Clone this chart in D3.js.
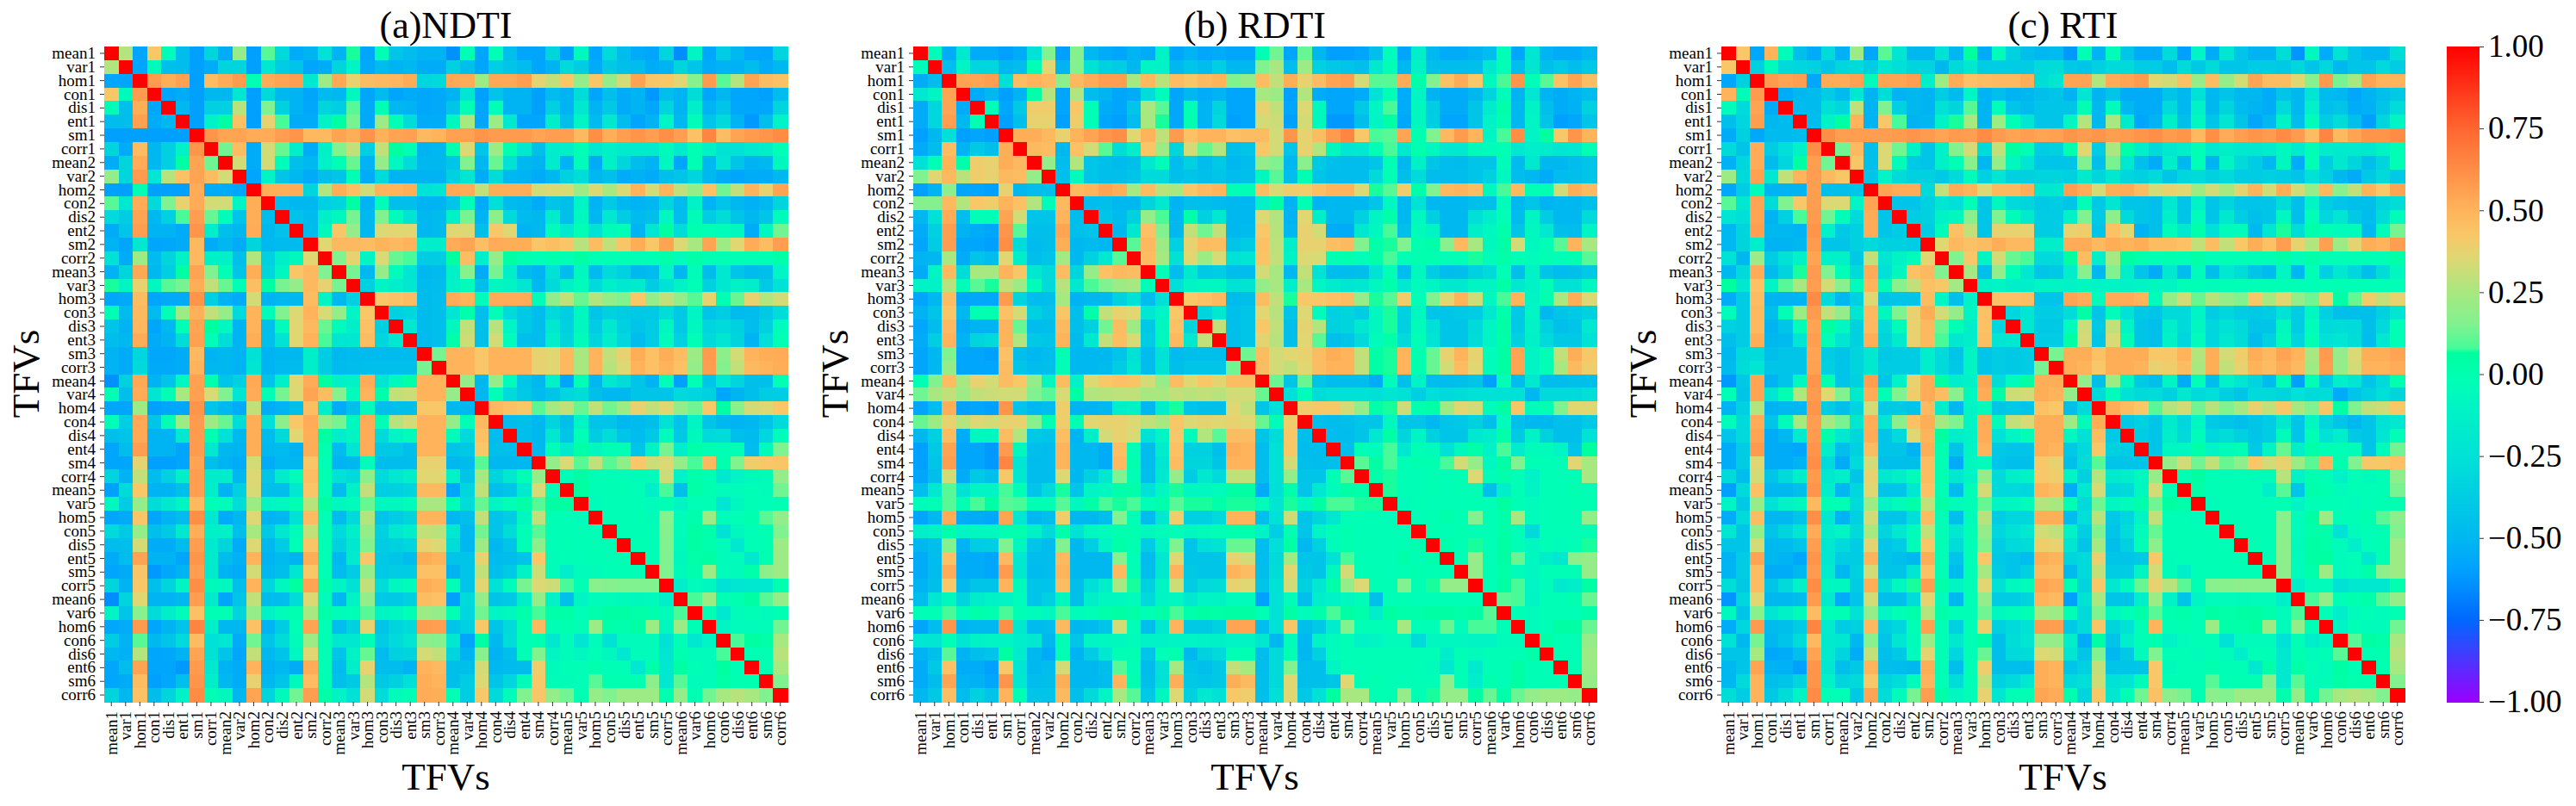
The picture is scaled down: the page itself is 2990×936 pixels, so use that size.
<!DOCTYPE html>
<html><head><meta charset="utf-8">
<script src="https://cdn.jsdelivr.net/npm/d3@7/dist/d3.min.js"></script>
<style>html,body{margin:0;padding:0;background:#fff}svg{display:block}text{font-family:"Liberation Serif","Times New Roman",serif;fill:#000}</style>
</head><body><svg id="c" width="2990" height="936"></svg>
<script>
const features=["mean","var","hom","con","dis","ent","sm","corr"];
const labels=[1,2,3,4,5,6].flatMap(n=>features.map(f=>f+n));
const titles=["(a)NDTI","(b) RDTI","(c) RTI"];
const axisName="TFVs";
const barTicks=[1,.75,.5,.25,0,-.25,-.5,-.75,-1];
// lower triangle of each symmetric matrix
const valuesNDTI=[[],
[.27],
[-.58,-.58],
[.42,-.06,.58],
[-.04,-.45,.52,-.58],
[-.47,-.47,.56,-.55,-.5],
[-.6,-.6,-.6,-.6,-.6,-.6],
[-.33,-.55,.47,-.5,-.36,-.12,.6],
[-.55,-.33,.53,-.5,-.36,.05,.55,.13],
[.2,-.33,.58,-.22,.28,.45,.55,.47,.33],
[-.6,-.6,-.02,-.6,-.6,-.6,.53,-.55,-.55,-.58],
[.1,-.2,.53,-.3,.15,.38,.53,.33,.33,-.1,.52],
[-.3,-.38,.55,-.5,-.35,.08,.57,.12,-.05,-.42,.52,-.47],
[-.55,-.42,.57,-.52,-.52,-.55,.6,-.15,-.45,-.5,.53,-.5,-.44],
[-.52,-.58,-.2,-.58,-.57,-.55,.48,-.55,-.5,-.55,-.33,-.5,-.48,-.48],
[-.25,-.55,.22,-.48,-.33,-.12,.48,-.13,-.13,-.45,.27,-.35,-.15,-.07,.36],
[-.52,-.33,.54,-.5,-.37,.05,.55,.15,-.03,-.42,.52,-.33,-.08,.43,.48,.15],
[.07,-.1,.38,-.07,.1,.14,.52,.3,.12,-.02,.46,.05,.14,.2,.48,.38,.14],
[-.58,-.56,.47,-.58,-.56,-.56,.6,-.37,-.52,-.55,.33,-.52,-.5,-.5,.47,-.1,-.5,-.35],
[-.02,-.48,.48,-.48,-.02,.22,.51,.3,.2,-.3,.5,-.05,.15,.35,.5,.34,.2,-.1,.42],
[-.42,-.52,.49,-.58,-.5,-.03,.55,.06,-.08,-.52,.5,-.45,-.05,.36,.48,.12,-.05,-.15,.45,-.35],
[-.47,-.5,.53,-.55,-.52,-.28,.56,-.03,-.28,-.52,.52,-.45,-.24,.36,.5,.08,-.22,-.2,.47,-.32,-.2],
[-.52,-.55,-.32,-.57,-.57,-.55,.48,-.52,-.5,-.52,-.25,-.52,-.5,-.5,-.15,-.38,-.5,-.48,-.48,-.48,-.48,-.48],
[-.52,-.55,-.3,-.56,-.56,-.55,.5,-.5,-.5,-.52,-.22,-.52,-.48,-.48,-.15,-.38,-.48,-.47,-.46,-.46,-.46,-.46,.14],
[-.64,-.35,.54,-.52,-.42,-.08,.56,0,-.42,-.35,.54,-.42,-.13,.36,.53,.06,-.13,-.12,.53,-.22,-.07,.03,.5,.5],
[-.02,-.45,.53,-.22,-.02,.25,.56,.34,.15,-.22,.53,-.03,.14,.35,.55,.47,.17,-.05,.5,.02,.3,.32,.5,.5,.2],
[-.58,-.58,.22,-.6,-.58,-.58,.6,-.42,-.5,-.55,.3,-.55,-.52,-.45,.46,-.15,-.55,-.45,-.05,-.45,-.45,-.45,.42,.42,-.5,-.5],
[-.03,-.37,.54,-.42,-.03,.22,.58,.22,.12,-.28,.52,-.27,.18,.42,.53,.2,.14,-.08,.53,-.03,.28,.33,.5,.5,.2,-.03,.48],
[-.45,-.42,.54,-.52,-.52,-.2,.58,0,-.25,-.5,.52,-.48,-.3,.36,.52,.05,-.15,-.1,.53,-.3,-.1,-.05,.5,.5,-.05,-.3,.45,-.47],
[-.58,-.47,.57,-.52,-.52,-.58,.58,-.2,-.5,-.52,.52,-.5,-.48,-.52,.52,0,-.48,-.22,.53,-.4,-.4,-.45,.5,.5,-.42,-.4,.42,-.45,-.45],
[-.58,-.58,.37,-.6,-.6,-.58,.55,-.45,-.52,-.55,.33,-.55,-.5,-.5,.43,-.03,-.52,-.5,-.05,-.47,-.47,-.47,.38,.38,-.5,-.48,.1,-.5,-.5,-.5],
[-.33,-.52,.3,-.47,-.36,-.15,.57,-.17,-.17,-.5,.35,-.42,-.17,-.05,.46,0,-.25,-.3,.18,-.3,-.2,-.15,.36,.36,-.12,-.42,.24,-.33,-.2,-.03,.2],
[-.6,-.3,.42,-.52,-.52,-.45,.57,-.15,-.52,-.35,.34,-.45,-.45,-.2,.43,-.02,-.47,-.13,.3,-.37,-.35,-.33,.48,.48,-.58,-.32,.3,-.45,-.42,-.18,.34,-.03],
[-.08,-.38,.2,-.28,-.2,-.1,.48,-.03,-.05,-.28,.22,-.1,-.08,-.02,.28,.05,-.08,-.05,.12,-.08,-.08,-.05,.25,.25,-.03,-.28,.12,-.1,-.03,.04,.1,.05,.06],
[-.58,-.55,.43,-.58,-.52,-.48,.62,-.2,-.55,-.5,.35,-.52,-.5,-.25,.47,-.02,-.48,-.3,.27,-.42,-.38,-.33,.5,.5,-.5,-.45,.3,-.42,-.38,-.08,.3,-.02,-.03,-.05],
[-.3,-.4,.2,-.45,-.4,-.2,.52,-.13,-.13,-.45,.25,-.4,-.2,-.05,.3,-.02,-.3,-.15,.2,-.35,-.2,-.15,.3,.28,-.2,-.5,.13,-.42,-.28,-.03,.1,-.03,-.02,-.03,-.03],
[-.47,-.45,.33,-.55,-.55,-.47,.57,-.18,-.33,-.55,.35,-.5,-.38,-.03,.43,-.02,-.35,-.2,.15,-.38,-.35,-.32,.38,.35,-.28,-.5,.22,-.5,-.42,-.03,.18,-.03,-.02,-.03,-.02,-.02],
[-.55,-.47,.55,-.52,-.52,-.58,.6,-.18,-.47,-.53,.5,-.52,-.48,-.52,.52,-.02,-.5,-.18,.42,-.4,-.42,-.47,.52,.5,-.42,-.42,.38,-.48,-.47,-.42,.42,-.04,-.03,-.03,-.02,-.02,-.01],
[-.58,-.55,.43,-.62,-.57,-.52,.57,-.18,-.52,-.55,.33,-.5,-.45,-.22,.42,-.02,-.48,-.38,.2,-.4,-.38,-.38,.45,.45,-.52,-.42,.3,-.45,-.4,-.12,.32,-.05,-.15,-.05,-.04,-.03,-.03,-.03],
[-.33,-.52,.42,-.45,-.33,-.1,.62,-.06,-.08,-.45,.5,-.33,-.08,.06,.55,.02,-.1,-.25,.3,-.28,-.08,-.05,.52,.5,-.03,-.42,.36,-.25,-.05,.14,.35,.32,.08,-.02,.17,.16,.15,.15,.15],
[-.65,-.33,.36,-.52,-.52,-.5,.57,-.18,-.58,-.42,.3,-.48,-.47,-.28,.35,-.05,-.5,-.12,.2,-.4,-.4,-.35,.47,.45,-.6,-.3,.2,-.42,-.4,-.15,.2,-.12,-.45,-.1,-.05,-.05,-.06,-.07,-.06,-.15],
[-.1,-.42,.17,-.28,-.15,-.05,.45,-.02,-.02,-.33,.2,-.12,-.04,0,.25,.03,-.04,-.03,.1,-.1,-.08,-.03,.22,.2,-.02,-.32,.13,-.1,-.07,.02,.08,.02,.04,-.03,.01,.05,.05,.03,.01,-.05,.08],
[-.57,-.55,.58,-.58,-.52,-.43,.65,-.13,-.5,-.5,.45,-.52,-.38,-.03,.55,-.02,-.47,-.35,.38,-.42,-.33,-.3,.58,.57,-.42,-.35,.42,-.42,-.3,-.02,.48,-.02,0,-.02,.22,.02,.01,.05,.22,-.08,.22,-.02],
[-.38,-.52,.1,-.5,-.42,-.3,.47,-.25,-.22,-.55,.13,-.42,-.28,-.05,.22,-.02,-.2,-.2,-.02,-.38,-.3,-.22,.18,.16,-.2,-.58,.05,-.5,-.28,-.02,0,-.2,-.05,-.22,-.05,-.25,-.05,-.05,-.05,-.25,-.03,-.2,-.1],
[-.5,-.53,.27,-.58,-.57,-.52,.55,-.25,-.42,-.58,.3,-.5,-.42,-.08,.36,-.02,-.42,-.12,.12,-.48,-.35,-.33,.33,.3,-.33,-.52,.17,-.52,-.45,-.03,.15,-.1,-.05,-.08,-.03,-.07,-.2,-.05,-.05,-.22,0,-.05,-.05,.08],
[-.57,-.47,.55,-.58,-.58,-.62,.58,-.2,-.52,-.55,.5,-.53,-.5,-.55,.53,-.02,-.48,-.15,.38,-.47,-.47,-.52,.5,.48,-.45,-.45,.33,-.5,-.48,-.47,.4,-.06,-.03,-.03,0,-.03,-.03,-.2,.02,-.2,.05,-.03,-.05,.06,-.03],
[-.58,-.55,.47,-.6,-.57,-.45,.6,-.15,-.5,-.55,.38,-.5,-.42,-.07,.47,-.02,-.45,-.4,.27,-.4,-.35,-.27,.52,.5,-.45,-.38,.35,-.42,-.32,-.05,.42,-.04,-.04,-.03,.1,-.01,-.01,-.01,.18,-.2,.1,-.05,-.04,.04,-.01,-.01],
[-.33,-.5,.45,-.47,-.33,-.12,.63,-.03,-.07,-.5,.55,-.33,-.06,.13,.57,.03,-.1,-.25,.33,-.28,-.05,-.02,.53,.52,-.02,-.38,.42,-.3,-.05,.15,.43,.2,.13,-.01,.2,.15,.22,.22,.22,0,.2,-.01,.13,.25,.28,.25,.15]];
const valuesRDTI=[[],
[-.05],
[-.55,-.47],
[-.2,-.1,.55],
[-.55,-.32,.55,-.55],
[-.55,-.32,.57,-.5,-.03],
[-.6,-.5,-.27,-.6,-.58,-.6],
[-.55,-.47,.47,-.52,-.4,-.45,.52],
[-.25,-.03,.5,.03,.4,.38,.52,.48],
[.15,.36,.48,.28,.4,.38,.48,.47,.2],
[-.6,-.52,.18,-.58,-.58,-.6,.38,-.5,-.47,-.45],
[.16,.16,.48,.27,.42,.4,.5,.45,.27,-.05,.48],
[-.5,-.25,.53,-.47,-.03,-.03,.55,.33,-.42,-.42,.5,-.47],
[-.55,-.35,.57,-.52,-.55,-.58,.6,.1,-.45,-.45,.55,-.45,-.42],
[-.58,-.38,.57,-.58,-.58,-.6,.62,-.28,-.48,-.45,.52,-.5,-.48,-.5],
[-.52,-.5,.25,-.55,-.42,-.47,.36,-.15,-.45,-.42,.24,-.5,-.35,-.2,.1],
[-.55,-.1,.48,-.28,.25,.25,.5,.43,-.2,-.3,.47,-.33,.2,.45,.48,.47],
[-.12,-.12,.28,-.05,.1,.07,.3,.22,-.05,-.3,.28,-.2,.08,.15,.22,.25,-.03],
[-.58,-.5,.47,-.58,-.57,-.57,.58,-.33,-.47,-.45,.25,-.52,-.5,-.5,-.35,-.25,-.47,-.27],
[-.52,-.42,.43,-.5,-.02,0,.45,.33,-.35,-.42,.43,-.45,.02,.3,.38,.36,-.2,-.1,.42],
[-.57,-.47,.48,-.55,-.52,-.52,.5,.12,-.47,-.45,.48,-.45,-.35,.13,.47,.22,-.4,-.08,.45,-.33],
[-.55,-.37,.5,-.52,-.33,-.3,.5,.27,-.4,-.42,.5,-.48,-.2,.3,.46,.34,-.38,-.08,.48,-.2,.3],
[-.58,-.5,.15,-.58,-.58,-.6,.45,-.45,-.5,-.47,-.02,-.5,-.5,-.5,-.42,-.25,-.47,-.25,-.48,-.45,-.45,-.45],
[-.58,-.5,.2,-.58,-.58,-.58,.47,-.42,-.47,-.45,-.03,-.5,-.5,-.48,-.38,-.22,-.47,-.23,-.45,-.42,-.42,-.42,.13],
[-.02,.15,.47,.25,.38,.33,.47,.42,.2,-.08,.47,-.12,.35,.42,.45,.44,.33,.2,.47,.36,.42,.37,.47,.47],
[.13,.25,.3,.22,.3,.32,.33,.33,.15,.1,.34,.05,.27,.28,.29,.3,.25,.25,.3,.28,.3,.28,.33,.33,.12],
[-.58,-.47,.52,-.6,-.58,-.6,.6,-.42,-.5,-.47,.4,-.52,-.52,-.5,-.15,-.12,-.5,-.15,.07,-.42,-.45,-.45,.36,.3,-.42,-.27],
[.12,.22,.38,.27,.35,.33,.38,.38,.17,-.02,.4,-.02,.36,.38,.38,.35,.3,.25,.42,.35,.37,.36,.38,.36,.12,-.05,.4],
[-.5,-.35,.47,-.55,-.07,-.07,.47,.27,-.4,-.42,.46,-.52,-.15,.33,.38,.34,-.25,-.1,.42,-.05,.27,.1,.47,.47,-.42,-.28,.42,-.45],
[-.6,-.4,.55,-.58,-.58,-.62,.58,-.07,-.45,-.47,.5,-.5,-.5,-.55,.46,-.02,-.47,-.17,.45,-.35,-.35,-.45,.52,.5,-.47,-.25,.42,-.47,-.47],
[-.6,-.42,.57,-.58,-.58,-.62,.65,-.22,-.47,-.47,.5,-.5,-.5,-.55,.48,0,-.47,-.22,.47,-.33,-.33,-.42,.5,.5,-.47,-.25,.33,-.45,-.47,-.45],
[-.58,-.45,.33,-.55,-.4,-.45,.42,-.2,-.47,-.47,.35,-.5,-.35,-.2,.15,-.03,-.45,-.2,.2,-.38,-.2,-.3,.3,.3,-.47,-.25,.2,-.42,-.42,-.03,.1],
[-.45,-.2,.1,-.25,-.1,-.1,.08,-.02,-.42,-.3,.07,-.42,-.1,-.08,.02,.03,-.25,-.08,.07,-.08,-.08,-.05,.05,.05,-.55,-.27,.02,-.42,-.2,-.05,.05,.02],
[-.05,-.03,.1,-.02,.08,.05,.1,.08,-.02,-.02,.1,-.08,.03,.08,.07,.08,-.02,.02,.1,.07,.07,.03,.07,.07,-.05,-.22,.07,-.08,.05,.08,.08,.07,.07],
[-.58,-.5,.53,-.55,-.55,-.57,.55,-.2,-.5,-.45,.4,-.5,-.5,-.45,.15,-.03,-.47,-.2,.4,-.35,-.35,-.3,.5,.5,-.45,-.25,.32,-.42,-.33,-.2,-.03,-.03,-.03,-.05],
[-.15,-.12,.02,-.1,-.08,-.08,0,0,-.13,-.3,.02,-.25,-.08,-.05,0,0,-.07,-.05,-.03,-.08,-.05,-.03,0,0,-.12,-.37,0,-.42,-.1,-.02,0,-.03,-.03,-.02,-.03],
[-.5,-.45,.15,-.52,-.38,-.37,.15,-.08,-.42,-.47,.15,-.5,-.37,-.1,.03,0,-.38,-.1,.15,-.42,-.27,-.23,.12,.12,-.47,-.27,.04,-.5,-.35,-.05,0,-.02,-.02,-.03,-.02,0],
[-.55,-.47,.45,-.55,-.55,-.58,.48,-.2,-.47,-.47,.48,-.5,-.5,-.5,.17,-.03,-.47,-.2,.36,-.42,-.42,-.42,.38,.33,-.47,-.3,.22,-.42,-.42,-.25,.08,-.03,-.03,-.03,.02,-.03,.02],
[-.55,-.47,.53,-.55,-.55,-.58,.58,-.2,-.48,-.47,.5,-.5,-.5,-.5,.48,-.03,-.45,-.2,.5,-.4,-.42,-.42,.5,.47,-.45,-.28,.36,-.4,-.42,-.07,.33,-.02,-.02,-.03,-.02,0,-.02,-.03],
[-.52,-.45,.42,-.5,-.42,-.42,.5,-.06,-.42,-.43,.47,-.45,-.27,-.15,.25,.07,-.35,-.1,.32,-.38,-.3,-.28,.38,.36,-.42,-.25,.33,-.35,-.2,.03,.2,.35,-.02,-.02,.15,-.02,.07,.2,.2],
[-.47,-.2,-.07,-.33,-.17,-.12,-.1,-.05,-.42,-.35,-.07,-.45,-.15,-.08,-.07,-.05,-.3,-.1,-.08,-.2,-.1,-.1,-.05,-.05,-.6,-.25,-.05,-.45,-.15,-.12,-.08,-.04,-.45,-.03,-.02,-.03,-.03,-.03,-.03,-.03],
[-.03,-.03,.08,-.05,.02,0,.08,-.02,-.05,-.08,.08,-.05,-.03,.02,.05,.03,-.02,.04,.08,.02,.05,.04,.05,.05,-.02,-.25,.05,-.05,.03,.08,.05,.02,-.15,.06,.02,.03,.05,.05,.04,.05,.1],
[-.58,-.47,.6,-.52,-.5,-.5,.62,-.2,-.48,-.47,.48,-.5,-.48,-.42,.33,-.03,-.45,-.2,.5,-.4,-.4,-.35,.55,.55,-.47,-.25,.43,-.45,-.4,-.17,.15,-.03,-.03,-.02,.25,-.03,-.03,.12,-.05,.08,.08,-.03],
[-.22,-.22,-.03,-.22,-.12,-.1,-.1,-.15,-.2,-.5,-.02,-.42,-.1,-.08,-.07,-.05,-.12,-.12,-.1,-.1,-.12,-.13,-.1,-.1,-.2,-.5,-.05,-.5,-.12,-.05,-.03,-.12,-.1,-.05,-.05,-.3,-.08,-.08,-.08,-.1,-.1,-.05,-.05],
[-.52,-.45,.1,-.52,-.45,-.42,.06,-.17,-.5,-.55,-.02,-.52,-.38,-.2,-.03,-.01,-.42,-.03,0,-.5,-.35,-.3,-.03,-.02,-.47,-.3,-.02,-.5,-.35,-.05,-.03,-.03,-.03,-.03,-.03,-.03,-.03,-.15,-.03,-.05,-.03,-.03,-.03,.03],
[-.55,-.4,.45,-.55,-.55,-.6,.42,-.22,-.5,-.47,.33,-.5,-.5,-.45,.1,-.03,-.47,-.25,.25,-.42,-.45,-.4,.3,.25,-.47,-.3,.15,-.45,-.45,-.1,-.03,-.03,-.03,-.02,-.02,-.03,-.05,-.2,-.03,-.18,-.03,-.03,.05,-.02,-.03],
[-.55,-.47,.55,-.52,-.53,-.57,.6,-.2,-.47,-.45,.52,-.5,-.5,-.47,.5,0,-.45,-.25,.52,-.4,-.42,-.4,.52,.48,-.45,-.3,.36,-.45,-.45,-.42,.36,-.03,0,-.02,-.03,-.03,-.03,.18,-.03,-.15,0,-.03,.05,-.03,-.03,-.03],
[-.5,-.4,.46,-.47,-.35,-.42,.5,-.02,-.42,-.42,.48,-.45,-.3,-.1,.25,.1,-.4,-.08,.35,-.35,-.2,-.25,.42,.4,-.45,-.27,.36,-.4,-.25,.06,.25,.25,-.02,-.01,.2,-.02,.07,.2,.2,.05,.12,.02,.12,.2,.22,.22,.2]];
const valuesRTI=[[],
[.42],
[-.57,-.35],
[.5,-.05,.58],
[-.05,-.3,.55,-.55],
[-.45,-.32,.57,-.5,-.48],
[-.55,-.35,-.57,-.48,-.48,-.47],
[-.3,-.42,.53,-.38,-.27,-.12,.62],
[-.53,-.32,.53,-.48,-.32,.05,.57,.13],
[.22,-.3,.56,-.2,.3,.5,.57,.48,.43],
[-.57,-.38,-.05,-.52,-.52,-.52,.57,-.45,-.45,-.42],
[.1,-.2,.55,-.28,.15,.42,.57,.35,.35,-.1,.55],
[-.22,-.27,.55,-.52,-.35,.08,.58,.13,-.04,-.3,.53,-.42],
[-.5,-.33,.57,-.5,-.5,-.52,.6,-.12,-.4,-.35,.53,-.42,-.38],
[-.5,-.33,-.15,-.52,-.52,-.5,.58,-.42,-.42,-.35,-.3,-.35,-.35,-.38],
[-.25,-.5,.22,-.38,-.25,-.12,.55,-.13,-.13,-.4,.3,-.22,-.12,-.05,.36],
[-.5,-.3,.53,-.48,-.33,.07,.58,.15,-.03,-.3,.53,-.27,-.08,.45,.48,.15],
[.06,-.2,.45,-.1,.1,.25,.57,.33,.17,-.05,.5,-.03,.17,.3,.45,.42,.24],
[-.55,-.38,.47,-.52,-.52,-.52,.63,-.3,-.5,-.35,.35,-.42,-.42,-.42,.47,-.1,-.45,-.12],
[-.05,-.38,.48,-.45,-.03,.22,.58,.3,.2,-.22,.48,-.07,.15,.38,.52,.33,.2,-.1,.45],
[-.35,-.38,.48,-.52,-.42,-.02,.55,.06,-.08,-.35,.48,-.3,-.05,.38,.48,.12,-.03,-.15,.45,-.32],
[-.45,-.38,.52,-.5,-.48,-.22,.57,-.03,-.22,-.35,.52,-.33,-.18,.38,.48,.08,-.2,-.15,.46,-.22,-.2],
[-.5,-.3,-.28,-.45,-.42,-.42,.55,-.38,-.42,-.33,-.2,-.4,-.38,-.38,-.15,-.3,-.42,-.1,-.42,-.38,-.4,-.38],
[-.48,-.28,-.22,-.42,-.42,-.42,.56,-.35,-.42,-.33,-.2,-.38,-.38,-.38,-.15,-.3,-.4,-.1,-.42,-.38,-.4,-.38,.14],
[-.62,-.4,.55,-.52,-.42,-.08,.6,0,-.42,-.35,.57,-.42,-.12,.38,.53,.06,-.15,-.12,.55,-.28,-.05,.05,.52,.52],
[-.03,-.42,.55,-.22,-.01,.27,.58,.36,.15,-.18,.53,-.03,.15,.4,.53,.47,.17,-.08,.53,.05,.32,.33,.52,.5,.2],
[-.52,-.35,.27,-.52,-.5,-.5,.6,-.38,-.45,-.33,.33,-.4,-.4,-.42,.48,-.15,-.5,-.1,-.05,-.42,-.4,-.42,.45,.42,-.45,-.3],
[-.05,-.3,.53,-.42,-.05,.25,.57,.25,.14,-.2,.52,-.22,.18,.45,.52,.24,.15,-.1,.53,-.05,.3,.34,.52,.52,.22,-.05,.52],
[-.42,-.3,.55,-.55,-.5,-.18,.58,.02,-.2,-.32,.53,-.42,-.3,.36,.5,.06,-.15,-.12,.53,-.25,-.1,-.03,.52,.52,-.08,-.25,.47,-.4],
[-.55,-.38,.58,-.55,-.55,-.58,.6,-.15,-.45,-.35,.47,-.42,-.42,-.52,.52,0,-.42,-.1,.5,-.4,-.42,-.42,.52,.5,-.4,-.3,.42,-.35,-.38],
[-.55,-.38,.36,-.55,-.55,-.52,.62,-.3,-.55,-.3,.33,-.45,-.45,-.45,.47,-.02,-.55,-.08,-.05,-.42,-.45,-.45,.42,.38,-.45,-.28,.1,-.42,-.42,-.42],
[-.3,-.47,.33,-.42,-.3,-.14,.58,-.2,-.15,-.42,.38,-.2,-.15,-.05,.47,0,-.2,-.1,.2,-.3,-.15,-.12,.42,.4,-.1,-.35,.27,-.18,-.15,-.08,.2],
[-.6,-.3,.45,-.5,-.5,-.45,.6,-.15,-.5,-.32,.36,-.42,-.42,-.2,.45,-.02,-.47,-.03,.33,-.3,-.3,-.32,.5,.47,-.55,-.2,.33,-.32,-.3,-.08,.33,-.02],
[-.1,-.4,.2,-.25,-.12,-.07,.48,-.02,-.03,-.3,.22,-.12,-.05,.02,.3,.04,-.05,-.03,.12,-.1,-.08,-.05,.27,.25,-.03,-.3,.13,-.08,-.05,.02,.13,.06,.03],
[-.55,-.3,.47,-.5,-.5,-.42,.62,-.2,-.52,-.35,.33,-.42,-.42,-.27,.47,-.03,-.45,-.05,.28,-.38,-.32,-.32,.52,.52,-.47,-.27,.28,-.4,-.32,-.1,.3,-.03,-.03,-.05],
[-.22,-.42,.2,-.42,-.33,-.22,.53,-.15,-.1,-.3,.25,-.33,-.2,-.05,.3,-.02,-.2,-.03,.2,-.32,-.25,-.2,.33,.3,-.12,-.37,.15,-.42,-.28,-.05,.12,-.03,-.02,-.03,-.02],
[-.42,-.42,.33,-.5,-.48,-.42,.57,-.2,-.3,-.38,.37,-.42,-.38,-.05,.42,-.02,-.28,-.03,.15,-.38,-.3,-.28,.4,.38,-.22,-.42,.24,-.45,-.35,-.03,.18,-.03,-.02,-.03,-.02,-.02],
[-.52,-.38,.55,-.5,-.52,-.57,.6,-.2,-.38,-.38,.5,-.42,-.45,-.5,.52,-.02,-.42,-.03,.42,-.4,-.42,-.47,.52,.5,-.33,-.3,.38,-.42,-.42,-.4,.42,-.04,-.03,-.03,-.02,-.02,-.01],
[-.52,-.38,.47,-.55,-.55,-.5,.58,-.17,-.5,-.35,.33,-.42,-.42,-.22,.45,-.02,-.48,-.03,.25,-.38,-.42,-.35,.48,.47,-.48,-.3,.3,-.38,-.38,-.1,.33,-.04,-.15,-.03,-.03,-.02,-.03,-.03],
[-.28,-.4,.47,-.42,-.3,-.12,.63,-.08,-.08,-.38,.52,-.28,-.08,.07,.57,.03,-.1,-.03,.36,-.25,-.07,-.05,.55,.53,-.02,-.33,.42,-.2,-.05,.12,.38,.28,.1,-.02,.17,.17,.18,.18,.18],
[-.63,-.32,.36,-.5,-.5,-.47,.58,-.18,-.55,-.42,.33,-.45,-.45,-.28,.38,-.05,-.5,-.03,.2,-.38,-.38,-.33,.5,.48,-.6,-.25,.25,-.42,-.42,-.15,.22,-.12,-.42,-.1,-.05,-.05,-.06,-.05,-.05,-.15],
[-.07,-.42,.17,-.22,-.13,-.05,.47,-.03,-.02,-.25,.2,-.1,-.03,.01,.27,.03,-.03,-.03,.13,-.08,-.05,-.02,.25,.22,-.02,-.3,.15,-.08,-.03,.03,.1,0,.02,-.03,.05,.03,.05,.05,.02,-.05,.08],
[-.55,-.32,.58,-.48,-.45,-.38,.65,-.17,-.38,-.35,.48,-.38,-.32,-.03,.56,-.02,-.35,-.03,.4,-.35,-.3,-.25,.58,.57,-.4,-.28,.43,-.33,-.25,-.02,.5,-.02,0,-.03,.22,.03,.03,.06,.22,-.05,.2,-.03],
[-.25,-.5,.14,-.5,-.42,-.28,.48,-.18,-.2,-.5,.17,-.42,-.22,-.05,.22,-.03,-.2,-.02,.05,-.45,-.28,-.22,.2,.2,-.15,-.55,.05,-.42,-.15,-.03,0,-.12,-.05,-.03,-.03,-.25,-.05,-.05,-.05,-.25,-.03,-.15,-.1],
[-.42,-.42,.25,-.57,-.55,-.45,.55,-.18,-.33,-.55,.3,-.45,-.4,-.05,.37,-.02,-.32,-.03,.12,-.45,-.3,-.28,.35,.33,-.22,-.42,.15,-.5,-.4,-.05,.15,-.03,-.03,-.05,-.02,-.05,-.15,-.03,-.03,-.2,0,-.05,-.03,.1],
[-.5,-.42,.55,-.52,-.53,-.6,.6,-.2,-.45,-.4,.5,-.45,-.47,-.5,.52,-.02,-.45,-.03,.4,-.45,-.45,-.47,.52,.5,-.42,-.35,.3,-.42,-.42,-.42,.42,-.06,-.03,-.03,0,-.03,-.03,-.2,.02,-.2,.03,-.03,-.05,.05,-.02],
[-.5,-.3,.5,-.45,-.42,-.33,.6,-.12,-.33,-.3,.42,-.33,-.28,-.05,.5,-.02,-.28,-.03,.3,-.35,-.3,-.2,.52,.5,-.3,-.27,.32,-.25,-.22,-.05,.42,-.03,-.02,-.02,.1,-.02,-.02,-.02,.18,-.2,.1,-.05,-.04,.04,0,0],
[-.28,-.38,.5,-.4,-.28,-.1,.63,-.03,-.03,-.4,.55,-.28,-.05,.14,.57,.03,-.08,-.03,.38,-.22,-.03,-.02,.55,.53,0,-.33,.42,-.2,-.03,.13,.45,.18,.14,-.01,.18,.15,.22,.22,.22,0,.2,-.01,.13,.25,.28,.25,.15]];

const stops=[-1,-.75,-.6,-.5,-.25,-.1,-.02,.065,.08,.15,.25,.35,.42,.5,.75,1];
const stopColors=["#9a00ff","#0068ff","#00a0ff","#00b8f0","#00e2d6","#00f4c4","#00ffb4","#00ffa0","#48fb98","#80f290","#a8e880","#dcd874","#f8c868","#ffb45c","#ff6630","#ff0000"];
const color=d3.scaleLinear().domain(stops).range(stopColors).clamp(true);

const svg=d3.select("#c");
const panels=[{left:121,data:valuesNDTI},{left:1060,data:valuesRDTI},{left:1998,data:valuesRTI}];
const size=793;
panels.forEach((p,k)=>{
  const x=d3.scaleBand().domain(labels).range([p.left,p.left+size]);
  const y=d3.scaleBand().domain(labels).range([54,815]);
  const cells=[];
  labels.forEach((a,i)=>labels.forEach((b,j)=>{
    const v=i===j?1:(i>j?p.data[i][j]:p.data[j][i]);
    cells.push({a,b,v});
  }));
  svg.append("g").attr("shape-rendering","crispEdges").selectAll("rect").data(cells).join("rect")
    .attr("x",d=>x(d.b)).attr("y",d=>y(d.a))
    .attr("width",x.bandwidth()+.5).attr("height",y.bandwidth()+.5)
    .attr("fill",d=>d.v===undefined?"#000":color(d.v));
  const gl=svg.append("g").attr("transform",`translate(${p.left},0)`).call(d3.axisLeft(y).tickSize(5).tickPadding(5));
  const gb=svg.append("g").attr("transform","translate(0,815)").call(d3.axisBottom(x).tickSize(5).tickPadding(5));
  [gl,gb].forEach(g=>{g.select(".domain").remove();g.selectAll("line").attr("stroke","#333").attr("stroke-width",1);
    g.selectAll("text").attr("font-size",19).attr("font-family","Liberation Serif").attr("fill","#000");});
  gb.selectAll("text").attr("transform","rotate(-90)").attr("text-anchor","end").attr("dy",null)
    .attr("x",-11).attr("y",0).attr("dominant-baseline","central");
  svg.append("text").attr("x",p.left+size/2).attr("y",44).attr("text-anchor","middle").attr("font-size",44).text(titles[k]);
  svg.append("text").attr("x",p.left+size/2).attr("y",917).attr("text-anchor","middle").attr("font-size",45).text(axisName);
  svg.append("text").attr("transform",`translate(${p.left-76},434) rotate(-90)`).attr("text-anchor","middle").attr("font-size",45).text(axisName);
});
// colour bar
const by=d3.scaleLinear().domain([-1,1]).range([815,54]);
const steps=d3.range(0,761);
svg.append("g").attr("shape-rendering","crispEdges").selectAll("rect").data(steps).join("rect")
  .attr("x",2840).attr("width",38).attr("y",d=>54+d).attr("height",1.5).attr("fill",d=>color(by.invert(54+d+.5)));
const ga=svg.append("g").attr("transform","translate(2878,0)").call(d3.axisRight(by).tickValues(barTicks).tickSize(5).tickPadding(5).tickFormat(d3.format(".2f")));
ga.select(".domain").remove();
ga.selectAll("line").attr("stroke","#333");
ga.selectAll("text").attr("font-size",37).attr("font-family","Liberation Serif").attr("fill","#000");
</script></body></html>
